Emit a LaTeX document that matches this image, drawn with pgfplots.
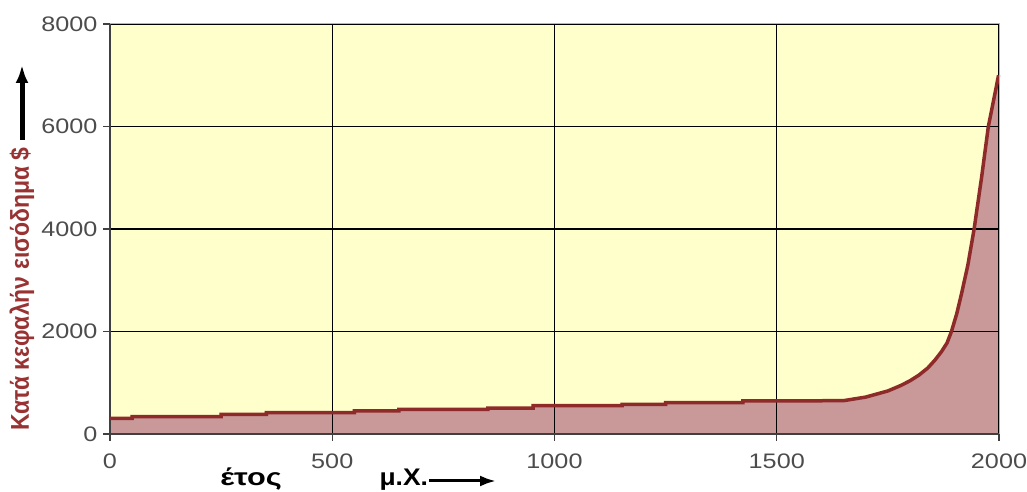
\documentclass[border=0pt]{standalone}
\usepackage{fontspec}
\setmainfont{Liberation Sans}
\usepackage{pgfplots}
\pgfplotsset{compat=1.18}
\usetikzlibrary{arrows.meta}
\definecolor{bgy}{HTML}{FFFFCC}
\definecolor{areafill}{HTML}{C99898}
\definecolor{curve}{HTML}{8E2A2A}
\definecolor{ylab}{HTML}{993333}
\definecolor{frame}{HTML}{D8A8A8}
\begin{document}
\begin{tikzpicture}[x=1pt,y=1pt]
\begin{axis}[
  at={(110pt,58pt)}, anchor=south west,
  scale only axis, width=889pt, height=410pt,
  xmin=0, xmax=2000, ymin=0, ymax=8000,
  xtick={0,500,1000,1500,2000},
  ytick={0,2000,4000,6000,8000},
  axis lines=left,
  axis line style={black!75, line width=1.2pt, -},
  tick style={black!75, line width=1.2pt},
  tick align=outside, major tick length=7pt,
  grid=major,
  major grid style={black, line width=1.3pt},
  set layers,
  axis background/.style={fill=bgy},
  tick label style={font=\fontsize{21}{21}\selectfont, text=black!70},
  xticklabel={\scalebox{1.2}[1]{\pgfmathprintnumber[assume math mode=true,1000 sep={}]{\tick}}},
  yticklabel={\scalebox{1.2}[1]{\pgfmathprintnumber[assume math mode=true,1000 sep={}]{\tick}}},
  xticklabel style={yshift=-9pt},
  yticklabel style={xshift=-2pt},
  clip=false,
]
\addplot[fill=areafill, draw=none, on layer=axis background] coordinates {
(0,306) (50,306) (50,340) (250,340) (250,384) (352,384) (352,416) (550,416) (550,450) (650,450) (650,482) (850,482) (850,507) (952,507) (952,552) (1152,552) (1152,580) (1250,580) (1250,611) (1424,611) (1424,644) (1650,650) (1700,720) (1750,840) (1780,950) (1800,1040) (1820,1150) (1840,1290) (1856,1444) (1870,1600) (1883,1775) (1893,2000) (1905,2350) (1916,2750) (1930,3300) (1944,4000) (1961,5020) (1976,6000) (1991,6650) (1999,7000) (2000,7000)
} \closedcycle;
\addplot[curve, line width=3.5pt] coordinates {
(0,306) (50,306) (50,340) (250,340) (250,384) (352,384) (352,416) (550,416) (550,450) (650,450) (650,482) (850,482) (850,507) (952,507) (952,552) (1152,552) (1152,580) (1250,580) (1250,611) (1424,611) (1424,644) (1650,650) (1700,720) (1750,840) (1780,950) (1800,1040) (1820,1150) (1840,1290) (1856,1444) (1870,1600) (1883,1775) (1893,2000) (1905,2350) (1916,2750) (1930,3300) (1944,4000) (1961,5020) (1976,6000) (1991,6650) (1999,7000)
};
\draw[frame, line width=1pt] (rel axis cs:0,1) -- (rel axis cs:1,1) -- (rel axis cs:1,0);
\end{axis}
\node[rotate=90, text=ylab, font=\bfseries\fontsize{23}{23}\selectfont] at (22,203) {\scalebox{1}[1.12]{Κατά κεφαλήν εισόδημα \$}};
\draw[-{Latex[length=18pt,width=13pt]}, line width=5pt] (22,352) -- (22,427);
\node[font=\bfseries\fontsize{24}{24}\selectfont, anchor=base] at (251,6) {\scalebox{1.28}[1]{έτος}};
\node[font=\bfseries\fontsize{24}{24}\selectfont, anchor=base west] at (376,6) {\scalebox{1.1}[1]{μ.Χ.}};
\draw[-{Latex[length=16pt,width=11pt]}, line width=3pt] (429,11) -- (496,11);
\pgfresetboundingbox
\useasboundingbox (0,0) rectangle (1027,492);
\end{tikzpicture}
\end{document}
